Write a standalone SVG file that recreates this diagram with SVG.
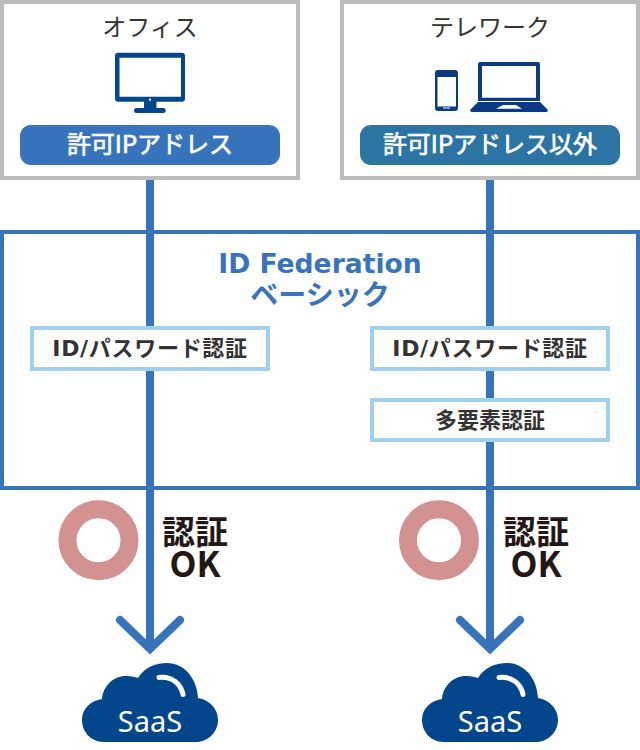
<svg xmlns="http://www.w3.org/2000/svg" width="640" height="750" viewBox="0 0 640 750">
<style>
.t{font-family:"Noto Sans CJK JP","Noto Sans",sans-serif;text-anchor:middle}
.d{font-family:"DejaVu Sans","Noto Sans CJK JP",sans-serif}
.box{fill:#fff;stroke:#bdbdbd;stroke-width:4}
.auth{fill:#fff;stroke:#a0d0ee;stroke-width:4}
.lbl{font-size:24px;fill:#333}
.pill{font-size:24px;fill:#fff;stroke:#fff;stroke-width:.7}
.a{font-size:22px;font-weight:700;fill:#333}
.pw{letter-spacing:.7px}
.ok{font-size:33px;font-weight:700;fill:#231815}
.ok2{font-size:35px;font-weight:700;fill:#231815}
.lane{stroke:#3874bc;stroke-width:8;fill:none}
.chev{stroke:#3874bc;stroke-width:8;fill:none;stroke-linecap:round;stroke-linejoin:miter}
.navy{fill:#03468b}
.dev{fill:#0b3a82;fill-rule:evenodd}
</style>
<defs>
<g id="cloud"><path class="navy" d="M-46 79C-60 79-68 68-68 57C-68 46-60 38-48 36C-47 22-35 12-23 13C-19 13-15 14-12 15C-6 5 5 0 17 0C34 0 47 15 48 35C60 37 68 46 68 57C68 69 58 79 46 79Z"/>
<path d="M9 14.5C22 13 31 21 33 31.5" fill="none" stroke="#fff" stroke-width="5" stroke-linecap="round"/>
<text class="t" x="0" y="68.5" style="font-size:29px;fill:#fff;font-family:'Noto Sans',sans-serif">SaaS</text></g>
</defs>
<g id="fed"><rect x="2" y="232" width="636" height="256" fill="#fff" stroke="#3874bc" stroke-width="4"/>
<text class="t d" x="320" y="272.5" style="font-size:26.6px;font-weight:700;fill:#3874bc">ID Federation</text>
<text class="t" x="320" y="305" style="font-size:28px;font-weight:700;fill:#3874bc">ベーシック</text></g>
<g id="connectors">
<path class="lane" d="M150 180V649"/><path class="lane" d="M490 180V649"/>
<path class="chev" d="M120 620L150 649L180 620"/><path class="chev" d="M460 620L490 649L520 620"/>
</g>
<g id="office"><rect class="box" x="2" y="2" width="296" height="176"/>
<text class="t lbl" x="150" y="35.5">オフィス</text>
<path class="navy" fill-rule="evenodd" d="M118 52.700H182Q185 52.700 185 55.700V98.700Q185 101.700 182 101.700H156.500V108H163Q165.700 108 165.700 110.500Q165.700 113 163 113H136.500Q134 113 134 110.500Q134 108 136.500 108H144V101.700H118Q115 101.700 115 98.700V55.700Q115 52.700 118 52.700ZM119.500 57.700V96.700H181V57.700Z"/>
<rect x="149" y="98.700" width="2" height="2" fill="#fff"/>
<rect x="20" y="125" width="260" height="40" rx="11" fill="#3874bc"/>
<text class="t pill" x="150" y="153">許可IPアドレス</text></g>
<g id="telework"><rect class="box" x="342" y="2" width="296" height="176"/>
<text class="t lbl" x="490" y="35.5">テレワーク</text>
<path class="dev" d="M438 70H455Q458 70 458 73V108Q458 111 455 111H438Q435 111 435 108V73Q435 70 438 70ZM437.500 77V106.500H456V77Z"/>
<rect x="443" y="107.500" width="7" height="1" fill="#fff"/>
<path class="dev" d="M480 62H538Q540 62 540 64V101H478V64Q478 62 480 62ZM482 66V97.700H536V66Z"/>
<path class="dev" d="M478 102H540L548 110Q548 112 546 112H472Q470 112 470 110Z"/>
<path d="M496 108.700L503 105H516L522 108.700Z" fill="#fff"/>
<rect x="360" y="125" width="260" height="40" rx="11" fill="#2b74a3"/>
<text class="t pill" x="490" y="153">許可IPアドレス以外</text></g>
<g id="auth1"><rect class="auth" x="32" y="328" width="236" height="41"/><text class="t a d pw" x="150" y="356">ID/パスワード認証</text></g>
<g id="auth2"><rect class="auth" x="372" y="328" width="236" height="41"/><text class="t a d pw" x="490" y="356">ID/パスワード認証</text></g>
<g id="mfa"><rect class="auth" x="372" y="400" width="236" height="40"/><text class="t a" x="490" y="428">多要素認証</text></g>
<g id="ok1"><circle cx="98.500" cy="540.300" r="31" fill="none" stroke="#d29292" stroke-width="18"/>
<text class="t ok" x="195" y="544">認証</text><text class="t ok2" x="195" y="577">OK</text></g>
<g id="ok2"><circle cx="439" cy="540.300" r="31" fill="none" stroke="#d29292" stroke-width="18"/>
<text class="t ok" x="536" y="544">認証</text><text class="t ok2" x="536" y="577">OK</text></g>
<g id="saas1"><use href="#cloud" x="150" y="663"/></g>
<g id="saas2"><use href="#cloud" x="490" y="663"/></g>
</svg>
